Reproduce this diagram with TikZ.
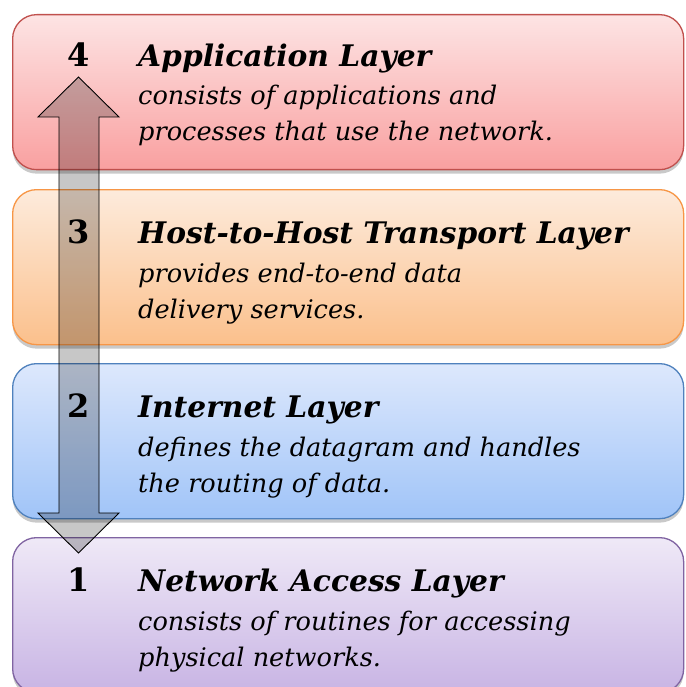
\documentclass[tikz,border=0pt]{standalone}
\usepackage{fontspec}
\setmainfont{DejaVu Serif}
\usetikzlibrary{shadows}

% layer colours: gradient top, gradient bottom, border
\definecolor{appTop}{RGB}{253,228,228}
\definecolor{appBot}{RGB}{249,160,160}
\definecolor{appLine}{RGB}{192,80,77}
\definecolor{hostTop}{RGB}{253,235,220}
\definecolor{hostBot}{RGB}{251,192,140}
\definecolor{hostLine}{RGB}{247,150,70}
\definecolor{netTop}{RGB}{221,232,252}
\definecolor{netBot}{RGB}{160,196,248}
\definecolor{netLine}{RGB}{79,129,189}
\definecolor{accTop}{RGB}{239,233,247}
\definecolor{accBot}{RGB}{200,180,228}
\definecolor{accLine}{RGB}{128,100,162}

\tikzset{
  layerbox/.style={rounded corners=24pt, line width=1.3pt, anchor=north west,
    minimum width=671pt, minimum height=155pt, inner sep=0pt,
    drop shadow={shadow xshift=0pt, shadow yshift=-4pt, opacity=0.3, fill=black!70}},
  layernum/.style={anchor=base, inner sep=0pt, font=\fontsize{32}{37}\selectfont\bfseries},
  layertitle/.style={anchor=base west, inner sep=0pt, font=\fontsize{29.7}{37}\selectfont\bfseries\itshape},
  layertext/.style={anchor=base west, inner sep=0pt, font=\fontsize{25.6}{37}\selectfont\itshape},
  updown/.style={draw=black, line width=0.9pt, fill=black, fill opacity=0.22, line join=miter}
}

\begin{document}
\begin{tikzpicture}[x=1pt,y=-1pt]
\useasboundingbox (0,0) rectangle (685,687);

% the four layer boxes
\node[layerbox, draw=appLine, top color=appTop, bottom color=appBot] (L4) at (12,14) {};
\node[layerbox, draw=hostLine, top color=hostTop, bottom color=hostBot] (L3) at (12,189) {};
\node[layerbox, draw=netLine, top color=netTop, bottom color=netBot] (L2) at (12,363) {};
\node[layerbox, draw=accLine, top color=accTop, bottom color=accBot] (L1) at (12,537) {};

% double-headed block arrow spanning the stack
\coordinate (tipUp) at (78.5,77);
\coordinate (tipDown) at (78.5,553);
\draw[updown] (tipUp) -- (119,117) -- (99,117) -- (99,513) -- (119,513)
  -- (tipDown) -- (38,513) -- (59,513) -- (59,117) -- (38,117) -- cycle;

% layer 4
\node[layernum] (n4) at (79,67) {4};
\node[layertitle] (t4) at (138,67) {Application Layer};
\node[layertext] (a4) at (138,105) {consists of applications and};
\node[layertext] (b4) at (138,141) {processes that use the network.};

% layer 3
\node[layernum] (n3) at (79,243) {3};
\node[layertitle] (t3) at (138,243) {Host-to-Host Transport Layer};
\node[layertext] (a3) at (138,282) {provides end-to-end data};
\node[layertext] (b3) at (138,318) {delivery services.};

% layer 2
\node[layernum] (n2) at (79,417) {2};
\node[layertitle] (t2) at (138,417) {Internet Layer};
\node[layertext] (a2) at (138,456) {defines the datagram and handles};
\node[layertext] (b2) at (138,492) {the routing of data.};

% layer 1
\node[layernum] (n1) at (79,591) {1};
\node[layertitle] (t1) at (138,591) {Network Access Layer};
\node[layertext] (a1) at (138,630) {consists of routines for accessing};
\node[layertext] (b1) at (138,666) {physical networks.};
\end{tikzpicture}
\end{document}
